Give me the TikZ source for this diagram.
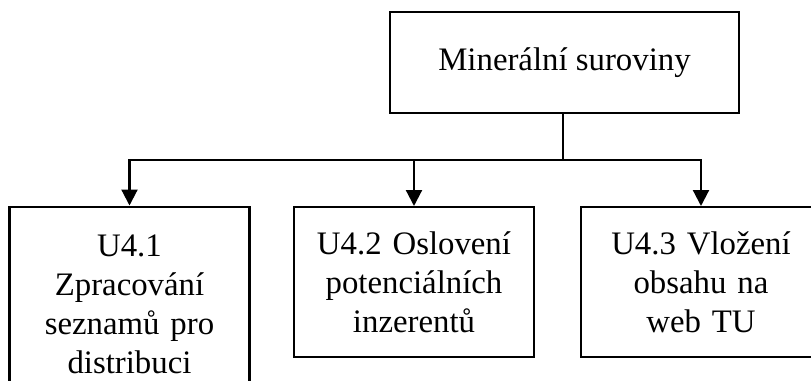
\documentclass[tikz,border=0pt]{standalone}
\usepackage{fontspec}
\setmainfont{Liberation Serif}
\usetikzlibrary{arrows.meta}

\begin{document}
\begin{tikzpicture}[x=0.5pt, y=-0.5pt, line width=1.1pt,
    box/.style={draw, rectangle, align=center, inner sep=0pt,
        font=\fontsize{16.4}{19.5}\selectfont},
    subbox/.style={box, anchor=north, text width=112pt, minimum width=120pt},
    arr/.style={-{Triangle[length=8pt, width=8pt]}}]

    \useasboundingbox (0,0) rectangle (811,381);
    \clip (0,0) rectangle (811,381);

    \node[box, minimum width=174.5pt, minimum height=50.5pt] (top) at (564.5,62.5)
        {Minerální suroviny};

    \node[subbox, minimum height=98pt] (u41) at (129.5,205.5)
        {U4.1\\ Zpracování\\ seznamů pro\\ distribuci};
    \node[subbox, minimum height=75pt] (u42) at (414,206)
        {U4.2 Oslovení\\ potenciálních\\ inzerentů};
    \node[subbox, minimum height=75pt] (u43) at (701,206)
        {U4.3 Vložení\\ obsahu na\\ web TU};

    % Connect top to the three subtasks
    \coordinate (split) at (563,160);
    \draw (top.south -| split) -- (split);
    \draw[arr] (split) -| (u41.north);
    \draw[arr] (split) -| (u42.north);
    \draw[arr] (split) -| (u43.north);

\end{tikzpicture}
\end{document}
